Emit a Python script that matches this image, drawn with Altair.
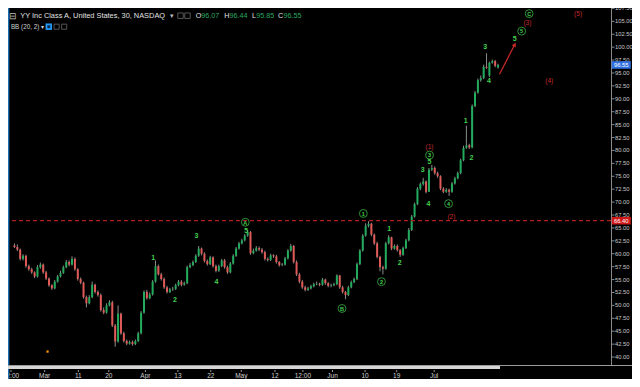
import altair as alt
import pandas as pd

# ---------------- candle data (30-min bars) ----------------
opens = [61.6, 61.3, 60.8, 59.0, 59.6, 57.6, 57.0, 56.4, 55.6, 57.4,
         57.9, 56.4, 55.2, 53.9, 53.3, 54.6, 55.6, 56.3, 57.4, 58.4,
         57.9, 59.0, 57.0, 55.1, 54.4, 51.6, 50.4, 51.6, 54.0, 52.6,
         52.0, 49.1, 48.6, 50.0, 50.6, 46.1, 43.0, 48.4, 44.6, 43.1,
         42.6, 42.9, 42.5, 43.1, 44.6, 48.6, 52.6, 51.4, 52.1, 54.6,
         57.6, 56.0, 55.1, 53.5, 52.6, 53.1, 53.2, 53.9, 54.6, 54.0,
         54.3, 57.4, 57.8, 58.4, 59.6, 61.0, 60.0, 58.6, 58.0, 59.3,
         57.6, 56.7, 57.6, 58.7, 57.4, 56.4, 58.1, 59.6, 61.0, 62.0,
         62.6, 63.5, 64.2, 60.1, 60.6, 61.1, 60.8, 60.3, 59.0, 58.8,
         59.7, 59.5, 58.4, 57.8, 57.9, 59.1, 60.6, 61.5, 58.4, 56.0,
         54.6, 53.5, 53.0, 53.3, 53.7, 54.1, 54.2, 54.0, 55.0, 54.3,
         53.8, 53.9, 54.1, 55.8, 53.5, 52.6, 52.0, 53.5, 54.5, 55.1,
         58.0, 60.6, 63.5, 65.4, 65.8, 63.7, 62.0, 59.4, 57.4, 57.1,
         62.0, 63.2, 61.0, 61.5, 60.7, 59.8, 61.1, 62.6, 64.6, 67.2,
         69.6, 72.6, 73.5, 74.0, 72.0, 76.3, 76.6, 75.6, 75.0, 72.6,
         72.0, 72.4, 72.0, 73.6, 74.6, 75.6, 78.1, 80.5, 81.0, 80.6,
         88.6, 91.2, 93.6, 94.0, 96.2, 94.5, 97.0, 97.3, 96.07]
highs = [62.0, 61.8, 61.0, 59.9, 59.8, 57.9, 57.3, 56.6, 57.8, 58.3,
         58.1, 56.7, 55.4, 54.1, 54.9, 55.9, 56.7, 57.7, 58.8, 58.7,
         59.5, 59.3, 57.2, 55.4, 54.6, 51.9, 52.0, 54.6, 54.2, 52.9,
         52.3, 49.6, 50.4, 51.0, 50.9, 46.4, 50.0, 48.6, 44.9, 43.4,
         43.2, 43.2, 43.4, 44.9, 48.9, 52.9, 53.0, 52.5, 54.9, 58.7,
         57.9, 56.3, 55.4, 53.8, 53.4, 53.6, 54.2, 54.9, 54.9, 54.6,
         57.7, 58.2, 58.7, 59.9, 61.5, 61.2, 60.3, 58.9, 59.6, 59.5,
         57.9, 57.9, 59.0, 59.0, 57.7, 58.4, 59.9, 61.3, 62.3, 62.9,
         63.8, 64.6, 64.4, 61.0, 61.5, 61.4, 61.1, 60.6, 59.3, 60.0,
         59.9, 59.8, 58.6, 58.2, 59.4, 60.9, 61.9, 61.7, 58.7, 56.3,
         54.9, 53.8, 53.6, 54.0, 54.4, 54.6, 54.4, 55.3, 55.2, 54.5,
         54.2, 54.4, 56.0, 55.9, 53.8, 52.8, 53.8, 54.8, 55.4, 58.3,
         60.9, 63.8, 65.9, 66.3, 66.0, 63.9, 62.3, 59.6, 57.7, 62.3,
         63.6, 63.3, 61.8, 61.8, 60.9, 61.4, 62.9, 65.0, 67.5, 69.9,
         72.9, 73.8, 74.7, 74.2, 76.6, 77.2, 76.9, 75.9, 75.2, 72.9,
         72.7, 72.6, 73.9, 74.9, 75.9, 78.4, 80.9, 84.8, 81.3, 88.9,
         91.5, 93.9, 94.5, 96.6, 98.8, 97.2, 97.6, 97.5, 96.8]
lows = [61.1, 60.5, 58.7, 58.7, 57.3, 56.7, 56.1, 55.3, 55.4, 57.1,
        56.1, 54.9, 53.6, 53.0, 53.1, 54.4, 55.4, 56.1, 57.2, 57.6,
        57.7, 56.7, 54.8, 54.1, 51.3, 49.6, 50.2, 51.4, 52.3, 51.7,
        48.8, 48.3, 48.4, 49.8, 45.8, 42.0, 42.8, 44.3, 42.8, 42.3,
        42.4, 42.2, 42.3, 42.9, 44.4, 48.4, 51.1, 51.2, 51.9, 54.4,
        55.8, 54.8, 53.2, 52.3, 52.4, 52.8, 53.0, 53.7, 53.7, 53.8,
        54.1, 57.2, 57.6, 58.2, 59.4, 59.7, 58.3, 57.7, 57.8, 57.3,
        56.4, 56.5, 57.4, 57.1, 56.1, 56.2, 57.9, 59.4, 60.8, 61.8,
        62.4, 63.3, 59.8, 59.9, 60.4, 60.5, 60.0, 58.7, 58.5, 58.6,
        59.2, 58.1, 57.5, 57.6, 57.7, 58.9, 60.4, 58.1, 55.7, 54.3,
        53.2, 52.7, 52.8, 53.1, 53.5, 53.9, 53.7, 53.8, 54.0, 53.5,
        53.5, 53.7, 53.9, 53.2, 52.3, 51.2, 51.8, 53.3, 54.3, 54.9,
        57.8, 60.4, 63.3, 65.1, 63.4, 61.7, 59.1, 56.6, 56.0, 56.9,
        61.8, 60.7, 60.8, 60.4, 59.4, 59.6, 60.9, 62.4, 64.4, 67.0,
        69.4, 72.3, 73.2, 71.7, 72.0, 76.0, 75.3, 74.7, 72.3, 71.7,
        71.8, 71.2, 71.8, 73.4, 74.4, 75.4, 77.9, 80.3, 80.3, 80.4,
        88.4, 91.0, 93.3, 93.8, 95.8, 94.2, 96.8, 96.1, 95.85]
closes = [61.3, 60.8, 59.0, 59.6, 57.6, 57.0, 56.4, 55.6, 57.4, 57.9,
          56.4, 55.2, 53.9, 53.3, 54.6, 55.6, 56.3, 57.4, 58.4, 57.9,
          59.0, 57.0, 55.1, 54.4, 51.6, 50.4, 51.6, 54.0, 52.6, 52.0,
          49.1, 48.6, 50.0, 50.6, 46.1, 43.0, 48.4, 44.6, 43.1, 42.6,
          42.9, 42.5, 43.1, 44.6, 48.6, 52.6, 51.4, 52.1, 54.6, 57.6,
          56.0, 55.1, 53.5, 52.6, 53.1, 53.2, 53.9, 54.6, 54.0, 54.3,
          57.4, 57.8, 58.4, 59.6, 61.0, 60.0, 58.6, 58.0, 59.3, 57.6,
          56.7, 57.6, 58.7, 57.4, 56.4, 58.1, 59.6, 61.0, 62.0, 62.6,
          63.5, 64.2, 60.1, 60.6, 61.1, 60.8, 60.3, 59.0, 58.8, 59.7,
          59.5, 58.4, 57.8, 57.9, 59.1, 60.6, 61.5, 58.4, 56.0, 54.6,
          53.5, 53.0, 53.3, 53.7, 54.1, 54.2, 54.0, 55.0, 54.3, 53.8,
          53.9, 54.1, 55.8, 53.5, 52.6, 52.0, 53.5, 54.5, 55.1, 58.0,
          60.6, 63.5, 65.4, 65.8, 63.7, 62.0, 59.4, 57.4, 57.1, 62.0,
          63.2, 61.0, 61.5, 60.7, 59.8, 61.1, 62.6, 64.6, 67.2, 69.6,
          72.6, 73.5, 74.0, 72.0, 76.3, 76.6, 75.6, 75.0, 72.6, 72.0,
          72.4, 72.0, 73.6, 74.6, 75.6, 78.1, 80.5, 81.0, 80.6, 88.6,
          91.2, 93.6, 94.0, 96.2, 96.0, 97.0, 97.3, 96.4, 96.55]

# x axis (bar index) tick labels
tick_bars = [-1.2, 10.5, 22.2, 32.8, 45.5, 56.8, 68.2, 78.8, 90.5, 100.2, 110.5, 121.8, 132.8, 145.8]
tick_text = ["12:00", "Mar", "11", "20", "Apr", "13", "22", "May", "12", "12:00", "Jun", "10", "19", "Jul"]
price_ticks = [40, 42.5, 45, 47.5, 50, 52.5, 55, 57.5, 60, 62.5, 65, 67.5, 70, 72.5, 75, 77.5,
               80, 82.5, 85, 87.5, 90, 92.5, 95, 97.5, 100, 102.5, 105, 107.5]

# Elliott-wave annotations
wave_text = ["1", "2", "3", "4", "5", "1", "2", "3", "4", "5", "1", "2", "3", "4", "5"]
wave_bar = [48.2, 55.8, 63.2, 70.2, 80.5, 130.2, 133.8, 141.8, 143.8, 144.2, 156.8, 158.8, 163.5, 164.8, 173.8]
wave_price = [59.1, 51.1, 63.4, 54.6, 64.5, 64.8, 58.3, 76.2, 69.7, 77.7, 85.7, 78.6, 100.0, 93.5, 101.6]

circ_text = ["A", "1", "2", "B", "3", "4", "5", "C"]
circ_bar = [80.2, 121.2, 127.5, 113.8, 144.2, 150.8, 176.2, 178.8]
circ_price = [66.1, 67.8, 54.6, 49.4, 79.1, 69.7, 103.1, 106.5]

red_text = ["(1)", "(2)", "(3)", "(4)", "(5)"]
red_bar = [144.2, 151.8, 178.2, 185.8, 195.8]
red_price = [80.6, 67.1, 104.6, 93.5, 106.5]

arrow_bar = [168.5, 173.8]
arrow_price = [94.75, 100.5]

level_price = 66.40
last_price = 96.55
dot_bar = [11.5]
dot_price = [41.06]

# ---------------- styling ----------------
W, H = 603, 357
GREEN = "#22ab5c"
RED = "#e05a57"
WICK = "#8c8c8c"
LIME = "#43d24f"
DRED = "#c62828"
FONT = "Liberation Sans"

xs = alt.Scale(domain=[-0.5, 205.5], nice=False, zero=False)
ys = alt.Scale(domain=[38.46, 107.58], nice=False, zero=False)


def X(f):
    return alt.X(f, scale=xs, axis=None)


def Y(f):
    return alt.Y(f, scale=ys, axis=None)


candles = pd.DataFrame({"bar": list(range(len(closes))), "open": opens, "high": highs,
                        "low": lows, "close": closes})

updown = alt.condition("datum.close >= datum.open", alt.value(GREEN), alt.value(RED))

wicks = alt.Chart(candles).mark_rule(strokeWidth=1, color=WICK).encode(
    x=X("bar:Q"), y=Y("low:Q"), y2="high:Q")
bodies = alt.Chart(candles).mark_bar(width=2).encode(
    x=X("bar:Q"), y=Y("open:Q"), y2="close:Q", color=updown)

# price axis (right) drawn from the tick list
yt = pd.DataFrame({"p": price_ticks})
y_domain = alt.Chart(yt).mark_rule(color="#8a8a8a", strokeWidth=1).encode(
    x=alt.value(603.5), y=alt.value(0), y2=alt.value(357))
y_ticks = alt.Chart(yt).mark_rule(color="#8a8a8a", strokeWidth=1).encode(
    x=alt.value(603.5), x2=alt.value(606.5), y=Y("p:Q"))
y_labels = alt.Chart(yt).transform_calculate(lab="format(datum.p, '.2f')").mark_text(
    align="left", baseline="middle", color="#c8c8c8", fontSize=5.8, font=FONT).encode(
    x=alt.value(607), y=Y("p:Q"), text="lab:N")

# time axis (bottom)
xt = pd.DataFrame({"b": tick_bars, "t": tick_text})
x_labels = alt.Chart(xt).mark_text(baseline="middle", color="#cfcfcf", fontSize=6.5, font=FONT).encode(
    x=X("b:Q"), y=alt.value(367.5), text="t:N")
x_ticks = alt.Chart(xt).mark_rule(color="#9a9a9a", strokeWidth=1).encode(
    x=X("b:Q"), y=alt.value(362), y2=alt.value(364))

level = alt.Chart(pd.DataFrame({"p": [level_price]})).mark_rule(
    color="#b01e1e", strokeWidth=1.2, strokeDash=[4, 3]).encode(y=Y("p:Q"))

waves = alt.Chart(pd.DataFrame({"t": wave_text, "b": wave_bar, "p": wave_price})).mark_text(
    color=LIME, fontSize=7, fontWeight="bold", font=FONT, baseline="middle").encode(
    x=X("b:Q"), y=Y("p:Q"), text="t:N")

circ_df = pd.DataFrame({"t": circ_text, "b": circ_bar, "p": circ_price})
circles = alt.Chart(circ_df).mark_point(shape="circle", filled=False, size=62, strokeWidth=1,
                                        color=LIME).encode(x=X("b:Q"), y=Y("p:Q"))
circ_txt = alt.Chart(circ_df).mark_text(color=LIME, fontSize=5.5, fontWeight="bold", font=FONT,
                                        baseline="middle", dy=0.3).encode(
    x=X("b:Q"), y=Y("p:Q"), text="t:N")

reds = alt.Chart(pd.DataFrame({"t": red_text, "b": red_bar, "p": red_price})).mark_text(
    color=DRED, fontSize=6.5, font=FONT, baseline="middle").encode(
    x=X("b:Q"), y=Y("p:Q"), text="t:N")

arrow_line = alt.Chart(pd.DataFrame({"b": [arrow_bar[0]], "p": [arrow_price[0]],
                                     "b2": [arrow_bar[1]], "p2": [arrow_price[1]]})).mark_rule(
    color=DRED, strokeWidth=1.3).encode(x=X("b:Q"), y=Y("p:Q"), x2="b2:Q", y2="p2:Q")
arrow_head = alt.Chart(pd.DataFrame({"b": [arrow_bar[1]], "p": [arrow_price[1]]})).mark_point(
    shape="triangle-up", filled=True, size=22, angle=28, color=DRED, opacity=1).encode(
    x=X("b:Q"), y=Y("p:Q"))

dot = alt.Chart(pd.DataFrame({"b": dot_bar, "p": dot_price})).mark_square(
    size=5, color="#ff9800", opacity=1).encode(x=X("b:Q"), y=Y("p:Q"))

BOX = "M-1,-0.4H1V0.4H-1Z"
box_df = pd.DataFrame({"p": [level_price, last_price], "t": ["66.40", "96.55"],
                       "c": ["#d01818", "#2f6fe0"]})
boxes = alt.Chart(box_df).mark_point(shape=BOX, filled=True, size=361, opacity=1).encode(
    x=alt.value(613.3), y=Y("p:Q"), color=alt.Color("c:N", scale=None))
box_txt = alt.Chart(box_df).mark_text(color="white", fontSize=5.8, font=FONT, baseline="middle").encode(
    x=alt.value(613.3), y=Y("p:Q"), text="t:N")

one = pd.DataFrame({"k": [0]})


def txt(s, x, y, color, size, align="left", weight="normal"):
    return alt.Chart(one).mark_text(text=s, align=align, baseline="middle", color=color, fontSize=size,
                                    fontWeight=weight, font=FONT).encode(x=alt.value(x), y=alt.value(y))


def sq(x, y, color, size, filled):
    return alt.Chart(one).mark_point(shape="square", filled=filled, size=size, color=color, opacity=1,
                                     strokeWidth=1).encode(x=alt.value(x), y=alt.value(y))


VAL = "#2aa860"
header = [
    txt("⊟", 5.4, 7.7, "#bdbdbd", 8.5, "center"),
    txt("YY Inc Class A, United States, 30, NASDAQ", 12.2, 7.7, "#e2e2e2", 7.4),
    txt("▾", 161.5, 7.9, "#bdbdbd", 6.5),
    sq(172.5, 7.7, "#555555", 30, False),
    sq(179.5, 7.7, "#555555", 30, False),
    txt("O", 187.8, 7.7, "#e2e2e2", 7.2),
    txt("96.07", 193.2, 7.7, VAL, 7.2),
    txt("H", 216.3, 7.7, "#e2e2e2", 7.2),
    txt("96.44", 221.5, 7.7, VAL, 7.2),
    txt("L", 244.0, 7.7, "#e2e2e2", 7.2),
    txt("95.85", 248.2, 7.7, VAL, 7.2),
    txt("C", 270.0, 7.7, "#e2e2e2", 7.2),
    txt("96.55", 275.5, 7.7, VAL, 7.2),
    txt("BB (20, 2) ▾", 2.9, 18.7, "#cfcfcf", 6.3),
    sq(40.8, 18.7, "#2196f3", 42, True),
    sq(40.8, 18.7, "#0b2a4a", 8, True),
    sq(48.6, 18.7, "#555555", 26, False),
    sq(56.2, 18.7, "#555555", 26, False),
]

left_line = alt.Chart(one).mark_rule(color="#1f6fb5", strokeWidth=1.5).encode(
    x=alt.value(0.6), y=alt.value(0), y2=alt.value(371))
bottom_thin = alt.Chart(one).mark_rule(color="#9a9a9a", strokeWidth=1).encode(
    x=alt.value(0), x2=alt.value(624), y=alt.value(357.5))
bottom_thick = alt.Chart(one).mark_rule(color="#d6d6d6", strokeWidth=3).encode(
    x=alt.value(0), x2=alt.value(492), y=alt.value(359.5))

chart = alt.layer(
    y_domain, y_ticks, y_labels, x_labels, x_ticks,
    wicks, bodies, level, dot, waves, circles, circ_txt, reds, arrow_line, arrow_head,
    boxes, box_txt, left_line, bottom_thin, bottom_thick, *header
).properties(
    width=W, height=H,
    autosize=alt.AutoSizeParams(type="none"),
    padding={"left": 0, "top": 0, "right": 21, "bottom": 14},
    background="#000000",
).configure_view(stroke=None)

chart.save("out.html", embed_options={"renderer": "svg", "actions": False})
